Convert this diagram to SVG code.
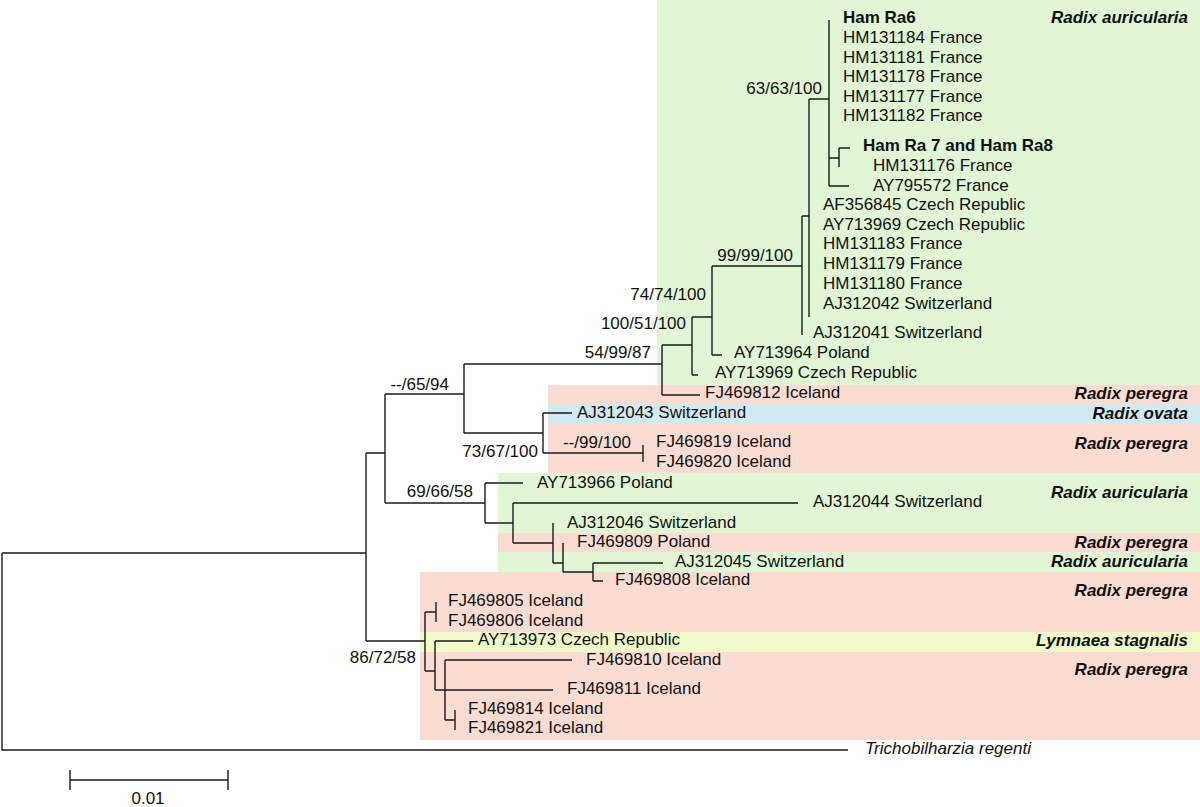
<svg xmlns="http://www.w3.org/2000/svg" width="1200" height="807" viewBox="0 0 1200 807">
<style>
.g{fill:#e0f6d5}.p{fill:#fadcd2}.b{fill:#d3e9f2}.l{fill:#f0fbca}
text{font-family:"Liberation Sans",Arial,sans-serif;font-size:17px;fill:#111}
.bo{font-weight:bold}
.sp{font-weight:bold;font-style:italic;text-anchor:end}
.it{font-style:italic}
.su{text-anchor:end}
#connectors path{fill:none;stroke:#1a1a1a;stroke-width:1.4}
</style>
<rect width="1200" height="807" fill="#fff"/>
<g id="bands">
<rect class="g" x="657" y="0" width="543" height="385"/>
<rect class="p" x="548" y="385" width="652" height="19"/>
<rect class="b" x="548" y="404" width="652" height="20"/>
<rect class="p" x="548" y="424" width="652" height="49"/>
<rect class="g" x="498" y="473" width="702" height="60"/>
<rect class="p" x="498" y="533" width="702" height="19"/>
<rect class="g" x="498" y="552" width="702" height="20"/>
<rect class="p" x="420" y="572" width="780" height="60"/>
<rect class="l" x="420" y="632" width="780" height="20"/>
<rect class="p" x="420" y="652" width="780" height="88"/>
</g>
<g id="connectors">
<path d="M2,553 V750 H848 M2,553 H366"/>
<path d="M366,453 V641 M366,453 H385 M366,641 H425"/>
<path d="M385,394 V503 M385,394 H464 M385,503 H485"/>
<path d="M464,364 V433 M464,364 H662 M464,433 H543"/>
<path d="M662,345 V395 M662,345 H692 M662,395 H700"/>
<path d="M692,317 V375 M692,317 H712 M692,375 H698"/>
<path d="M712,266 V355 M712,266 H802 M712,355 H722"/>
<path d="M802,216 V335 M802,216 H809"/>
<path d="M809,99 V317 M809,99 H829"/>
<path d="M829,20 V186 M829,158 H839 M829,186 H849"/>
<path d="M839,148 V167 M839,148 H850"/>
<path d="M543,413 V453 M543,413 H572 M543,453 H643"/>
<path d="M643,445 V462"/>
<path d="M485,483 V523 M485,483 H523 M485,523 H513"/>
<path d="M513,503 V543 M513,503 H798 M513,543 H553"/>
<path d="M553,523 V563 M553,563 H563"/>
<path d="M563,543 V572 M563,572 H593"/>
<path d="M593,563 V581 M593,563 H663 M593,581 H603"/>
<path d="M425,612 V671 M425,612 H436 M425,671 H435"/>
<path d="M436,602 V622"/>
<path d="M435,641 V690 M435,641 H473 M435,690 H553"/>
<path d="M445,660 V720 M445,660 H572 M445,720 H455"/>
<path d="M455,710 V730"/>
<path d="M70,780 H228 M70,770 V790 M228,770 V790"/>
</g>
<g id="support">
<text class="su" x="822" y="94">63/63/100</text>
<text class="su" x="793" y="261">99/99/100</text>
<text class="su" x="706" y="300">74/74/100</text>
<text class="su" x="686" y="329">100/51/100</text>
<text class="su" x="651" y="358">54/99/87</text>
<text class="su" x="449" y="390">--/65/94</text>
<text class="su" x="538" y="457">73/67/100</text>
<text class="su" x="631" y="448">--/99/100</text>
<text class="su" x="473" y="497">69/66/58</text>
<text class="su" x="416" y="663">86/72/58</text>
</g>
<g id="leaves">
<g id="n1"><text class="bo" x="843" y="23">Ham Ra6</text></g>
<g id="n2"><text x="843" y="43">HM131184 France</text></g>
<g id="n3"><text x="843" y="63">HM131181 France</text></g>
<g id="n4"><text x="843" y="82">HM131178 France</text></g>
<g id="n5"><text x="843" y="102">HM131177 France</text></g>
<g id="n6"><text x="843" y="121">HM131182 France</text></g>
<g id="n7"><text class="bo" x="863" y="151">Ham Ra 7 and Ham Ra8</text></g>
<g id="n8"><text x="873" y="171">HM131176 France</text></g>
<g id="n9"><text x="873" y="191">AY795572 France</text></g>
<g id="n10"><text x="823" y="210">AF356845 Czech Republic</text></g>
<g id="n11"><text x="823" y="230">AY713969 Czech Republic</text></g>
<g id="n12"><text x="823" y="249">HM131183 France</text></g>
<g id="n13"><text x="823" y="269">HM131179 France</text></g>
<g id="n14"><text x="823" y="289">HM131180 France</text></g>
<g id="n15"><text x="823" y="309">AJ312042 Switzerland</text></g>
<g id="n16"><text x="813" y="338">AJ312041 Switzerland</text></g>
<g id="n17"><text x="734" y="358">AY713964 Poland</text></g>
<g id="n18"><text x="715" y="378">AY713969 Czech Republic</text></g>
<g id="n19"><text x="705" y="398">FJ469812 Iceland</text></g>
<g id="n20"><text x="577" y="418">AJ312043 Switzerland</text></g>
<g id="n21"><text x="656" y="447">FJ469819 Iceland</text></g>
<g id="n22"><text x="656" y="467">FJ469820 Iceland</text></g>
<g id="n23"><text x="537" y="488">AY713966 Poland</text></g>
<g id="n24"><text x="813" y="507">AJ312044 Switzerland</text></g>
<g id="n25"><text x="567" y="528">AJ312046 Switzerland</text></g>
<g id="n26"><text x="577" y="547">FJ469809 Poland</text></g>
<g id="n27"><text x="675" y="567">AJ312045 Switzerland</text></g>
<g id="n28"><text x="615" y="585">FJ469808 Iceland</text></g>
<g id="n29"><text x="448" y="606">FJ469805 Iceland</text></g>
<g id="n30"><text x="448" y="626">FJ469806 Iceland</text></g>
<g id="n31"><text x="478" y="645">AY713973 Czech Republic</text></g>
<g id="n32"><text x="586" y="665">FJ469810 Iceland</text></g>
<g id="n33"><text x="567" y="694">FJ469811 Iceland</text></g>
<g id="n34"><text x="468" y="714">FJ469814 Iceland</text></g>
<g id="n35"><text x="468" y="733">FJ469821 Iceland</text></g>
<g id="n36"><text class="it" x="865" y="754">Trichobilharzia regenti</text></g>
</g>
<g id="species">
<text class="sp" x="1188" y="23">Radix auricularia</text>
<text class="sp" x="1188" y="399">Radix peregra</text>
<text class="sp" x="1188" y="419">Radix ovata</text>
<text class="sp" x="1188" y="449">Radix peregra</text>
<text class="sp" x="1188" y="498">Radix auricularia</text>
<text class="sp" x="1188" y="548">Radix peregra</text>
<text class="sp" x="1188" y="567">Radix auricularia</text>
<text class="sp" x="1188" y="596">Radix peregra</text>
<text class="sp" x="1188" y="646">Lymnaea stagnalis</text>
<text class="sp" x="1188" y="675">Radix peregra</text>
</g>
<g id="scale"><text x="148" y="804" text-anchor="middle">0.01</text></g>
</svg>
